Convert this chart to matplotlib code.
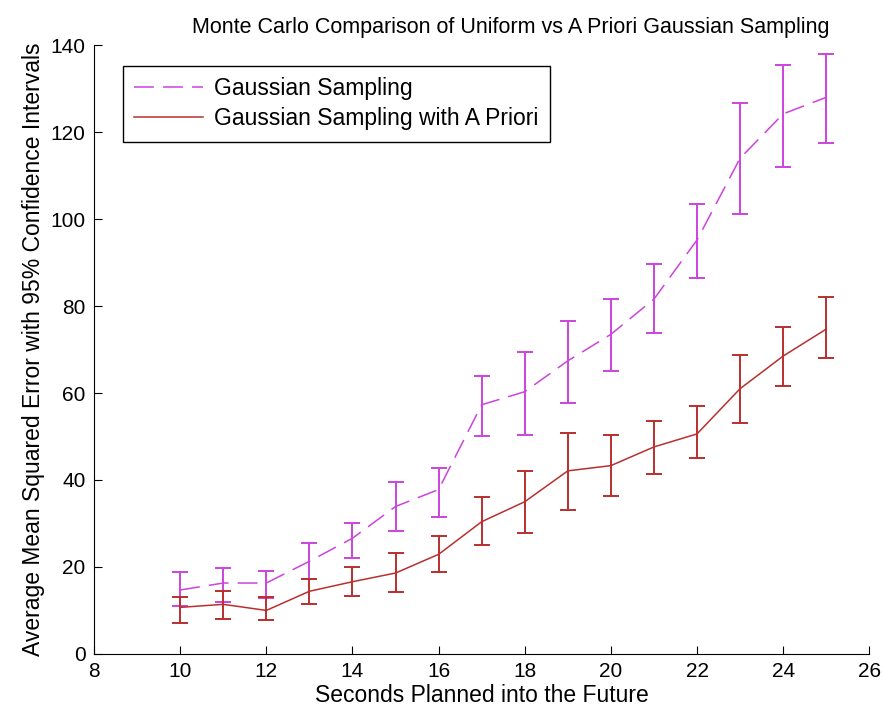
#!/usr/bin/env python3
"""Monte Carlo comparison of uniform vs a priori gaussian sampling."""

import matplotlib
matplotlib.use("Agg")
import matplotlib.pyplot as plt
import numpy as np

# seconds planned ahead
seconds = [10, 11, 12, 13, 14, 15, 16, 17, 18, 19, 20, 21, 22, 23, 24, 25]

# Gaussian sampling: mean and 95% CI bounds
gauss_mean = [14.7, 16.3, 16.3, 21.3, 26.6, 33.9, 37.8, 57.3, 60.3, 67.4, 73.5, 81.6, 95.2, 114.0, 124.2, 128.0]
gauss_hi = [18.8, 19.8, 19.0, 25.6, 30.1, 39.6, 42.8, 64.0, 69.5, 76.5, 81.7, 89.7, 103.5, 126.6, 135.5, 138.0]
gauss_lo = [11.0, 12.0, 12.8, 17.3, 22.0, 28.2, 31.6, 50.0, 50.4, 57.8, 65.0, 73.7, 86.5, 101.2, 112.0, 117.4]

# Gaussian sampling with a priori
prior_mean = [10.7, 11.4, 10.0, 14.4, 16.6, 18.6, 22.9, 30.4, 35.0, 42.1, 43.3, 47.6, 50.6, 61.0, 68.5, 74.7]
prior_hi = [13.2, 14.4, 13.0, 17.2, 20.0, 23.3, 27.1, 36.2, 42.1, 50.8, 50.4, 53.6, 57.0, 68.7, 75.2, 82.0]
prior_lo = [7.2, 8.0, 7.7, 11.4, 13.4, 14.2, 18.8, 25.1, 27.9, 33.2, 36.4, 41.4, 45.0, 53.0, 61.6, 68.0]

MAGENTA = "#CC44DD"
RED = "#B8302E"


def asym_err(mean, lo, hi):
    mean = np.asarray(mean)
    return [mean - np.asarray(lo), np.asarray(hi) - mean]


def main() -> None:
    plt.rcParams.update({"font.family": ["Liberation Sans", "DejaVu Sans"], "font.size": 14})
    fig = plt.figure(figsize=(8.83, 7.17), dpi=100)
    ax = fig.add_axes([0.1065, 0.088, 0.878, 0.849])

    ax.errorbar(seconds, gauss_mean, yerr=asym_err(gauss_mean, gauss_lo, gauss_hi),
                fmt="none", ecolor=MAGENTA, elinewidth=1.4, capsize=6, capthick=1.4)
    ax.errorbar(seconds, prior_mean, yerr=asym_err(prior_mean, prior_lo, prior_hi),
                fmt="none", ecolor=RED, elinewidth=1.4, capsize=6, capthick=1.4)
    ax.plot(seconds, gauss_mean, color=MAGENTA, lw=1.1, dashes=(13, 6), label="Gaussian Sampling")
    ax.plot(seconds, prior_mean, color=RED, lw=1.1, label="Gaussian Sampling with A Priori")

    ax.set_xlim(8, 26)
    ax.set_ylim(0, 140)
    ax.set_xticks(range(8, 27, 2))
    ax.set_yticks(range(0, 141, 20))
    ax.spines["top"].set_visible(False)
    ax.spines["right"].set_visible(False)
    ax.tick_params(direction="in", length=6, labelsize=15, pad=6)

    ax.set_xlabel("Seconds Planned into the Future", fontsize=16.5, labelpad=2)
    ax.set_ylabel("Average Mean Squared Error with 95% Confidence Intervals", fontsize=16.5,
                  labelpad=4)
    ax.set_title("Monte Carlo Comparison of Uniform vs A Priori Gaussian Sampling",
                 fontsize=15.5, pad=9, x=0.537)

    leg = ax.legend(loc="upper left", bbox_to_anchor=(0.037, 0.966), borderaxespad=0,
                    fancybox=False, edgecolor="black", fontsize=16.5, handlelength=3.0,
                    handletextpad=0.5, framealpha=1, borderpad=0.5, labelspacing=0.3)
    leg.get_frame().set_linewidth(1.0)

    fig.savefig("out.png", dpi=100)
    plt.close(fig)


if __name__ == "__main__":
    main()
